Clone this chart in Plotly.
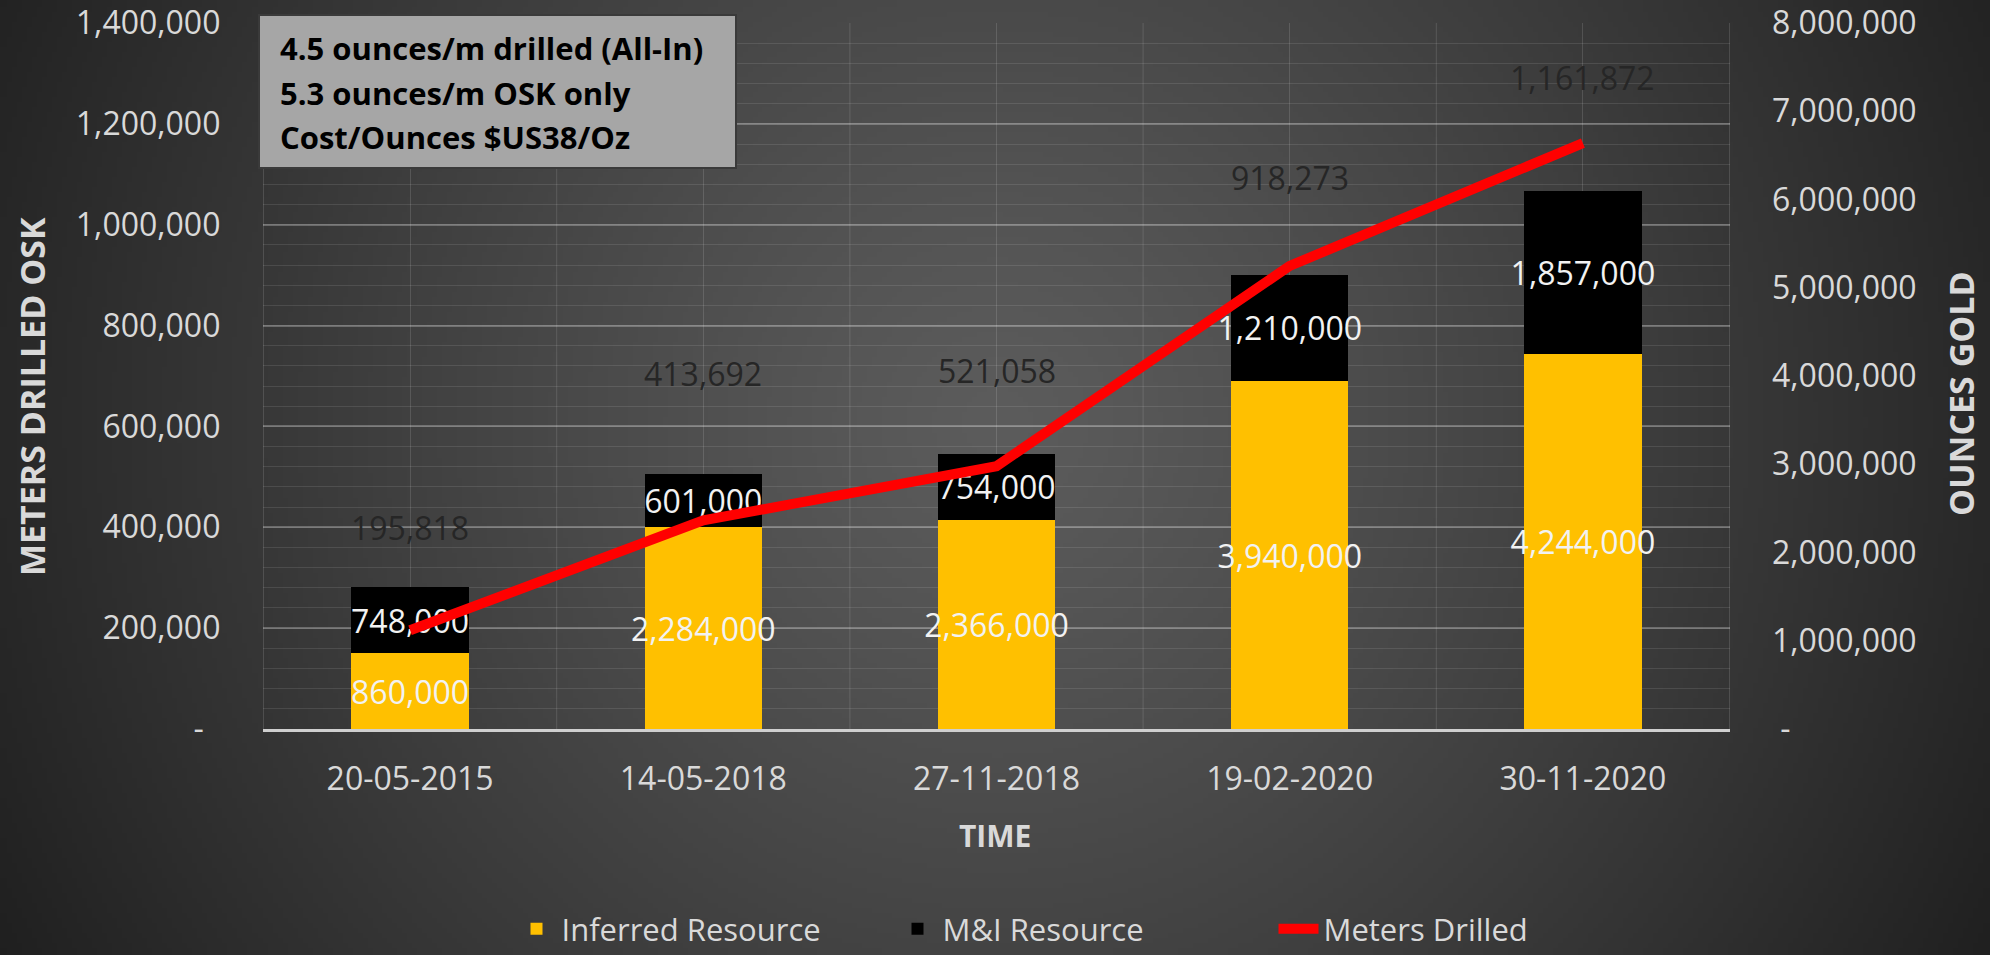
import base64
import struct
import zlib

import numpy as np
import plotly.graph_objects as go

# ---------------- data ----------------
dates = ["20-05-2015", "14-05-2018", "27-11-2018", "19-02-2020", "30-11-2020"]
inferred = [860000, 2284000, 2366000, 3940000, 4244000]
mi_resource = [748000, 601000, 754000, 1210000, 1857000]
meters_drilled = [195818, 413692, 521058, 918273, 1161872]

left_tick_values = [0, 200000, 400000, 600000, 800000, 1000000, 1200000, 1400000]
right_tick_values = [0, 1000000, 2000000, 3000000, 4000000, 5000000, 6000000, 7000000, 8000000]

box_lines = [
    "4.5 ounces/m drilled (All-In)",
    "5.3 ounces/m OSK only",
    "Cost/Ounces $US38/Oz",
]

# ---------------- style ----------------
W, H = 1990, 955
ML, MR, MT, MB = 263, 260, 23, 226
PW, PH = W - ML - MR, H - MT - MB
FONT = "Open Sans"
meter_label_lift = [103, 147, 96, 88, 66]  # px above each point (label placement)
NB = "\u00a0"


def px_x(px):
    return (px - ML) / PW


def px_y(py):
    return (H - MB - py) / PH


def fmt(v):
    return "{:,}".format(v)


def png_uri(arr):
    h, w, _ = arr.shape
    raw = b"".join(b"\x00" + arr[i].tobytes() for i in range(h))

    def chunk(tag, data):
        return (struct.pack(">I", len(data)) + tag + data
                + struct.pack(">I", zlib.crc32(tag + data) & 0xFFFFFFFF))

    png = (b"\x89PNG\r\n\x1a\n"
           + chunk(b"IHDR", struct.pack(">IIBBBBB", w, h, 8, 2, 0, 0, 0))
           + chunk(b"IDAT", zlib.compress(raw, 9))
           + chunk(b"IEND", b""))
    return "data:image/png;base64," + base64.b64encode(png).decode()


# radial grey background
gw, gh = 398, 191
yy, xx = np.mgrid[0:gh, 0:gw]
xs = xx * (W / gw)
ys = yy * (H / gh)
t = np.sqrt(((xs - 995) / 1000.0) ** 2 + ((ys - 420) / 1000.0) ** 2)
t = np.clip(t, 0, 1.2) ** 1.2
val = np.clip(92 - 52 * t, 30, 255).astype(np.uint8)
bg = np.stack([val, val, val], axis=-1)
bg_uri = png_uri(bg)

fig = go.Figure()

for name, vals, color in [("Inferred Resource", inferred, "#ffc000"),
                          ("M&I Resource", mi_resource, "#000000")]:
    fig.add_trace(go.Bar(
        x=dates, y=vals, name=name,
        marker=dict(color=color, line=dict(width=0)),
        text=[fmt(v) for v in vals], textposition="inside", textangle=0,
        insidetextanchor="middle", constraintext="none",
        textfont=dict(family=FONT, size=32, color="#f2f2f2"),
        yaxis="y", hoverinfo="skip",
    ))

fig.add_trace(go.Scatter(
    x=dates, y=meters_drilled, name="Meters Drilled", mode="lines",
    line=dict(color="#ff0000", width=10),
    yaxis="y2", hoverinfo="skip",
))

annotations = []
for d, m, lift in zip(dates, meters_drilled, meter_label_lift):
    annotations.append(dict(
        x=d, y=m, xref="x", yref="y2", yshift=lift, showarrow=False,
        xanchor="center", yanchor="middle",
        text=fmt(m), font=dict(family=FONT, size=32, color="#262626"),
    ))

# axis titles
annotations.append(dict(
    x=px_x(32), y=px_y(397), xref="paper", yref="paper", showarrow=False,
    xanchor="center", yanchor="middle",
    text="<b>METERS DRILLED OSK</b>", textangle=-90,
    font=dict(family=FONT, size=34, color="#d9d9d9"),
))
annotations.append(dict(
    x=px_x(1961), y=px_y(393), xref="paper", yref="paper", showarrow=False,
    xanchor="center", yanchor="middle",
    text="<b>OUNCES GOLD</b>", textangle=-90,
    font=dict(family=FONT, size=34, color="#d9d9d9"),
))
annotations.append(dict(
    x=px_x(995), y=px_y(835), xref="paper", yref="paper", showarrow=False,
    xanchor="center", yanchor="middle",
    text="<b>TIME</b>", font=dict(family=FONT, size=30, color="#d9d9d9"),
))

# info box text
for line, cy in zip(box_lines, [48, 93, 137]):
    annotations.append(dict(
        x=px_x(278), y=px_y(cy), xref="paper", yref="paper", showarrow=False,
        xanchor="left", yanchor="middle", text="<b>" + line + "</b>",
        font=dict(family=FONT, size=31, color="#000000"),
    ))

shapes = [dict(
    type="rect", xref="paper", yref="paper",
    x0=px_x(259), x1=px_x(736), y0=px_y(168), y1=px_y(15),
    fillcolor="#a6a6a6", line=dict(color="#3a3a3a", width=2), layer="above",
)]
# category boundary gridlines
for i in range(len(dates) + 1):
    shapes.append(dict(
        type="line", xref="x", yref="paper", x0=i - 0.5, x1=i - 0.5, y0=0, y1=1,
        line=dict(color="rgba(255,255,255,0.13)", width=1), layer="below",
    ))

fig.update_layout(
    width=W, height=H,
    margin=dict(l=ML, r=MR, t=MT, b=MB, pad=0, autoexpand=False),
    paper_bgcolor="#3a3a3a", plot_bgcolor="rgba(0,0,0,0)",
    barmode="stack", bargap=0.6,
    font=dict(family=FONT, color="#d9d9d9"),
    images=[dict(
        source=bg_uri, xref="paper", yref="paper",
        x=-ML / PW, y=1 + MT / PH, sizex=W / PW, sizey=H / PH,
        xanchor="left", yanchor="top", sizing="stretch", layer="below",
    )],
    xaxis=dict(
        type="category", showgrid=True, gridcolor="rgba(255,255,255,0.13)",
        gridwidth=1, showline=True, linecolor="#cfcfcf", linewidth=3,
        ticks="", tickfont=dict(family=FONT, size=32, color="#d9d9d9"),
        ticklabelstandoff=20, zeroline=False, automargin=False,
    ),
    yaxis=dict(
        side="right", range=[0, 8000000], showgrid=False, zeroline=False,
        tickvals=right_tick_values,
        ticktext=[NB + "-" if v == 0 else fmt(v) for v in right_tick_values],
        ticks="", ticklabelstandoff=41, automargin=False,
        tickfont=dict(family=FONT, size=32, color="#d9d9d9"),
    ),
    yaxis2=dict(
        side="left", overlaying="y", range=[0, 1400000], zeroline=False,
        tickvals=left_tick_values,
        ticktext=["-" + NB * 7 if v == 0 else fmt(v) + NB * 5 for v in left_tick_values],
        ticks="", automargin=False,
        tickfont=dict(family=FONT, size=32, color="#d9d9d9"),
        showgrid=True, gridcolor="rgba(255,255,255,0.26)", gridwidth=2,
        minor=dict(dtick=40000, tick0=0, showgrid=True,
                   gridcolor="rgba(255,255,255,0.10)", gridwidth=1),
    ),
    legend=dict(
        orientation="h", x=px_x(1083), xanchor="center",
        y=px_y(929), yanchor="middle",
        font=dict(family=FONT, size=31, color="#d9d9d9"),
        bgcolor="rgba(0,0,0,0)", traceorder="normal", itemwidth=40,
        entrywidth=326, entrywidthmode="pixels",
    ),
    annotations=annotations, shapes=shapes,
    showlegend=True,
)

fig.write_html(
    "out.html",
    config={"displayModeBar": False},
    post_script="document.body.style.margin='0';document.body.style.overflow='hidden';",
)
